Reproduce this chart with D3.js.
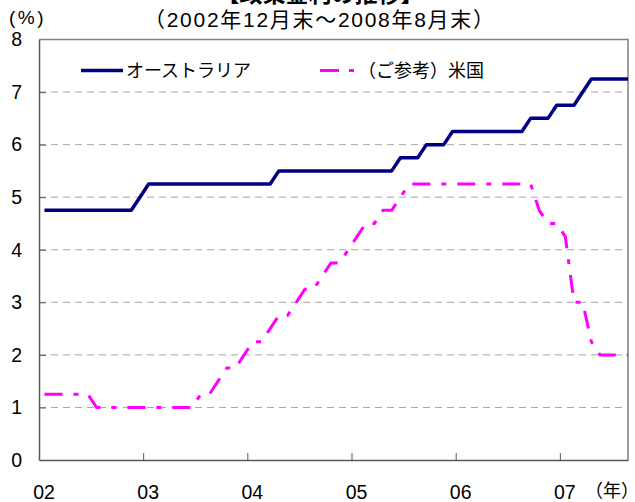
<!DOCTYPE html>
<html>
<head>
<meta charset="utf-8">
<script src="https://cdn.jsdelivr.net/npm/d3@7"></script>
<style>
  body { margin: 0; background: #fff; }
  svg { display: block; font-family: "Liberation Sans", Arial, "Noto Sans CJK JP", sans-serif; }
</style>
</head>
<body>
<svg id="chart"></svg>
<script>
const width = 635;
const height = 502;

// 月末データ（2002年12月末～2008年8月末）
const months = [
  "2002-12",
  "2003-01", "2003-02", "2003-03", "2003-04", "2003-05", "2003-06",
  "2003-07", "2003-08", "2003-09", "2003-10", "2003-11", "2003-12",
  "2004-01", "2004-02", "2004-03", "2004-04", "2004-05", "2004-06",
  "2004-07", "2004-08", "2004-09", "2004-10", "2004-11", "2004-12",
  "2005-01", "2005-02", "2005-03", "2005-04", "2005-05", "2005-06",
  "2005-07", "2005-08", "2005-09", "2005-10", "2005-11", "2005-12",
  "2006-01", "2006-02", "2006-03", "2006-04", "2006-05", "2006-06",
  "2006-07", "2006-08", "2006-09", "2006-10", "2006-11", "2006-12",
  "2007-01", "2007-02", "2007-03", "2007-04", "2007-05", "2007-06",
  "2007-07", "2007-08", "2007-09", "2007-10", "2007-11", "2007-12",
  "2008-01", "2008-02", "2008-03", "2008-04", "2008-05", "2008-06",
  "2008-07", "2008-08"
];

const australia = [
  4.75,
  4.75, 4.75, 4.75, 4.75, 4.75, 4.75, 4.75, 4.75, 4.75, 4.75, 5.00, 5.25,
  5.25, 5.25, 5.25, 5.25, 5.25, 5.25, 5.25, 5.25, 5.25, 5.25, 5.25, 5.25,
  5.25, 5.25, 5.50, 5.50, 5.50, 5.50, 5.50, 5.50, 5.50, 5.50, 5.50, 5.50,
  5.50, 5.50, 5.50, 5.50, 5.75, 5.75, 5.75, 6.00, 6.00, 6.00, 6.25, 6.25,
  6.25, 6.25, 6.25, 6.25, 6.25, 6.25, 6.25, 6.50, 6.50, 6.50, 6.75, 6.75,
  6.75, 7.00, 7.25, 7.25, 7.25, 7.25, 7.25, 7.25
];

const usa = [
  1.25,
  1.25, 1.25, 1.25, 1.25, 1.25, 1.00, 1.00, 1.00, 1.00, 1.00, 1.00, 1.00,
  1.00, 1.00, 1.00, 1.00, 1.00, 1.25, 1.25, 1.50, 1.75, 1.75, 2.00, 2.25,
  2.25, 2.50, 2.75, 2.75, 3.00, 3.25, 3.25, 3.50, 3.75, 3.75, 4.00, 4.25,
  4.50, 4.50, 4.75, 4.75, 5.00, 5.25, 5.25, 5.25, 5.25, 5.25, 5.25, 5.25,
  5.25, 5.25, 5.25, 5.25, 5.25, 5.25, 5.25, 5.25, 4.75, 4.50, 4.50, 4.25,
  3.00, 3.00, 2.25, 2.00, 2.00, 2.00, 2.00, 2.00
];

const seriesNames = ["オーストラリア", "（ご参考）米国"];
const yearLabels = ["02", "03", "04", "05", "06", "07"];
const yTicks = [0, 1, 2, 3, 4, 5, 6, 7, 8];

// 横軸は最初のデータ点より少し手前から始まり、1年ごとに目盛
const axisStart = -0.63;
const axisEnd = 67.22;
const yearTicks = yearLabels.map((d, i) => axisStart + 12 * i);

const svg = d3.select("#chart").attr("width", width).attr("height", height);

const x = d3.scaleLinear().domain([axisStart, axisEnd]).range([39, 628]);
const y = d3.scaleLinear().domain([0, 8]).range([460, 39.5]);

svg.append("clipPath")
  .attr("id", "plot-clip")
  .append("rect")
  .attr("x", x.range()[0])
  .attr("y", 0)
  .attr("width", x.range()[1] - x.range()[0])
  .attr("height", height);

// タイトル（上端で切れている）
svg.append("text")
  .attr("x", 320)
  .attr("y", 2)
  .attr("text-anchor", "middle")
  .attr("font-size", 23)
  .attr("font-weight", "bold")
  .text("【政策金利の推移】");

svg.append("text")
  .attr("x", 319)
  .attr("y", 27)
  .attr("text-anchor", "middle")
  .attr("font-size", 21)
  .attr("textLength", 350)
  .attr("lengthAdjust", "spacing")
  .text("（2002年12月末～2008年8月末）");

svg.append("text")
  .attr("x", 9)
  .attr("y", 24)
  .attr("font-size", 19)
  .attr("letter-spacing", 2.5)
  .text("(%)");

// 補助線
svg.append("g")
  .selectAll("line")
  .data(yTicks.filter(d => d > 0 && d < 8))
  .join("line")
  .attr("x1", x.range()[0])
  .attr("x2", x.range()[1])
  .attr("y1", d => y(d))
  .attr("y2", d => y(d))
  .attr("stroke", "#a6a6a6")
  .attr("stroke-width", 1)
  .attr("stroke-dasharray", "7,5");

// 枠（上・右）
svg.append("path")
  .attr("d", `M${x.range()[0]},${y(8)}H${x.range()[1]}V${y(0)}`)
  .attr("fill", "none")
  .attr("stroke", "#808080")
  .attr("stroke-width", 1.5);

const yAxis = svg.append("g")
  .attr("transform", `translate(${x.range()[0]},0)`)
  .call(d3.axisLeft(y).tickValues(yTicks).tickSizeInner(-7).tickSizeOuter(0).tickPadding(17));

const xAxis = svg.append("g")
  .attr("transform", `translate(0,${y(0)})`)
  .call(d3.axisBottom(x).tickValues(yearTicks).tickFormat((d, i) => yearLabels[i])
    .tickSizeInner(-7).tickSizeOuter(0).tickPadding(25));

[yAxis, xAxis].forEach(g => {
  g.select(".domain").attr("stroke", "#595959").attr("stroke-width", 1.5);
  g.selectAll(".tick line").attr("stroke", "#595959").attr("stroke-width", 1);
  g.selectAll(".tick text").attr("fill", "#000").attr("font-size", 19.5)
    .attr("font-family", "Liberation Sans, Arial, sans-serif");
});
xAxis.selectAll(".tick text").attr("dx", 4.5);
yAxis.selectAll(".tick line").filter(d => d === 0 || d === 8).remove();
xAxis.selectAll(".tick line").filter((d, i) => i === 0).remove();

svg.append("text")
  .attr("x", 585)
  .attr("y", 497)
  .attr("font-size", 18)
  .text("（年）");

// 折れ線
const line = d3.line()
  .x((d, i) => x(i))
  .y(d => y(d));

const lines = svg.append("g").attr("clip-path", "url(#plot-clip)");

lines.append("path")
  .datum(usa)
  .attr("d", line)
  .attr("fill", "none")
  .attr("stroke", "#ff00ff")
  .attr("stroke-width", 3)
  .attr("stroke-dasharray", "18,11,5,11");

lines.append("path")
  .datum(australia)
  .attr("d", line)
  .attr("fill", "none")
  .attr("stroke", "#000080")
  .attr("stroke-width", 3.5)
  .attr("stroke-linejoin", "round");

// 凡例
const legend = svg.append("g");
legend.append("line")
  .attr("x1", 81).attr("x2", 123).attr("y1", 70.5).attr("y2", 70.5)
  .attr("stroke", "#000080").attr("stroke-width", 3.5);
legend.append("text")
  .attr("x", 126).attr("y", 77).attr("font-size", 18)
  .text(seriesNames[0]);
legend.append("line")
  .attr("x1", 320).attr("x2", 355).attr("y1", 70.5).attr("y2", 70.5)
  .attr("stroke", "#ff00ff").attr("stroke-width", 3)
  .attr("stroke-dasharray", "19,10,5,100");
legend.append("text")
  .attr("x", 358).attr("y", 77).attr("font-size", 18)
  .text(seriesNames[1]);
</script>
</body>
</html>
